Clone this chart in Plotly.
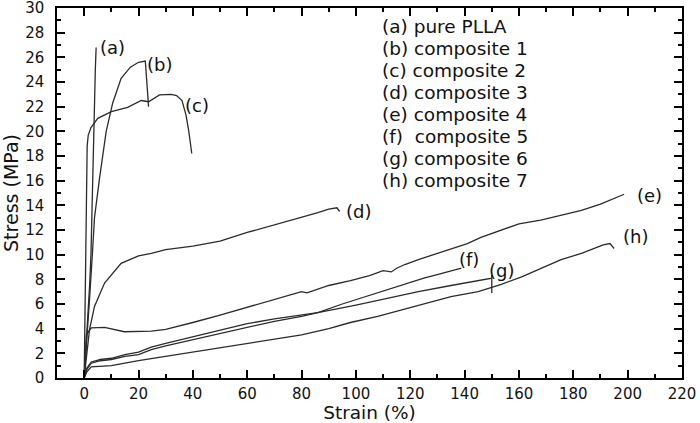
import plotly.graph_objects as go

# ---- data ----
a_x = [0, 1, 2, 2.5, 2.8, 3.1, 3.4, 3.8, 4.1, 4.4]
a_y = [0, 3.5, 7.5, 10, 13, 17, 20, 23, 25, 26.8]

b_x = [0, 1, 2, 3, 3.8, 5.6, 8.1, 10.5, 13.6, 17, 20, 22.5, 23.0, 23.7]
b_y = [0, 3, 6.5, 10, 13, 16.1, 20, 22.3, 24.3, 25.2, 25.6, 25.7, 24.0, 22.0]

c_x = [0, 0.4, 0.6, 0.8, 1.1, 1.5, 2.5, 5, 10, 16, 21, 23.7, 27.7, 32, 34, 36, 37.5, 38.5, 39.6]
c_y = [0, 8, 13, 17, 18.8, 19.7, 20.3, 21.05, 21.6, 21.95, 22.5, 22.4, 22.95, 23.0, 22.9, 22.5, 21.3, 20.0, 18.2]

d_x = [0, 0.5, 1.1, 1.95, 3.8, 7.5, 13.6, 20, 24.7, 30, 40, 50, 60, 70, 80, 86, 90, 93, 94]
d_y = [0, 1.0, 2.0, 3.9, 5.8, 7.7, 9.3, 9.9, 10.1, 10.4, 10.7, 11.1, 11.8, 12.4, 13.0, 13.4, 13.7, 13.8, 13.5]

e_x = [0, 0.3, 0.8, 2.6, 7.5, 14.8, 20, 24.7, 30, 35.7, 40, 50, 60, 70, 80, 82, 90, 98, 105, 110, 113, 115,
       118, 123, 130, 141, 146, 153.5, 160, 168, 175, 183, 190, 198.7]
e_y = [0, 2.0, 3.5, 4.06, 4.1, 3.75, 3.75, 3.8, 3.95, 4.25, 4.5, 5.1, 5.75, 6.4, 7.0, 6.9, 7.5, 7.9, 8.3, 8.7, 8.6,
       8.9, 9.2, 9.6, 10.1, 10.9, 11.4, 12.0, 12.5, 12.8, 13.2, 13.6, 14.1, 14.9]

f_x = [0, 0.5, 1, 2.6, 6, 10, 15, 20, 24.7, 30, 40, 50, 60, 70, 80, 86, 95, 105, 116.7, 125, 132, 138.8]
f_y = [0, 0.4, 0.7, 1.2, 1.4, 1.5, 1.75, 1.9, 2.3, 2.6, 3.1, 3.6, 4.1, 4.6, 5.0, 5.3, 6.0, 6.7, 7.5, 8.1, 8.5, 8.9]

g_x = [0, 0.5, 1, 2.6, 6, 10, 15, 20, 24.7, 30, 40, 50, 60, 70, 80, 86, 100, 110, 123, 135, 143, 150, 150, 150]
g_y = [0, 0.45, 0.8, 1.3, 1.5, 1.6, 1.9, 2.1, 2.5, 2.8, 3.35, 3.9, 4.4, 4.8, 5.1, 5.3, 5.9, 6.4, 7.0, 7.5, 7.8, 8.1, 8.35, 6.9]

h_x = [0, 0.5, 1, 2.6, 5, 10, 20, 30, 40, 50, 60, 70, 80, 90, 98, 108, 116.7, 125, 135, 145, 153.5, 161, 168,
       175.5, 183, 191, 193.5, 195]
h_y = [0, 0.3, 0.5, 0.9, 0.95, 1.0, 1.4, 1.75, 2.1, 2.45, 2.8, 3.1, 3.5, 4.0, 4.5, 5.0, 5.5, 6.0, 6.6, 7.0, 7.6,
       8.2, 8.9, 9.6, 10.1, 10.8, 10.9, 10.5]

curve_tags = ["(a)", "(b)", "(c)", "(d)", "(e)", "(f)", "(g)", "(h)"]
tag_x = [10.3, 27.6, 41.6, 101, 208, 141.7, 153.5, 203]
tag_y = [26.8, 25.4, 22.1, 13.5, 14.8, 9.6, 8.75, 11.5]

legend_lines = ["(a) pure PLLA", "(b) composite 1", "(c) composite 2", "(d) composite 3",
                "(e) composite 4", "(f)\u00a0 composite 5", "(g) composite 6", "(h) composite 7"]

x_ticks = list(range(0, 221, 20))
y_ticks = list(range(0, 31, 2))

FONT = "DejaVu Sans"
LINE = "#2b2b2b"

fig = go.Figure()
for xs, ys in [(a_x, a_y), (b_x, b_y), (c_x, c_y), (d_x, d_y), (e_x, e_y), (f_x, f_y), (g_x, g_y), (h_x, h_y)]:
    fig.add_trace(go.Scatter(x=xs, y=ys, mode="lines", line=dict(color=LINE, width=1.3),
                             showlegend=False, hoverinfo="skip"))

annotations = []
for t, tx, ty in zip(curve_tags, tag_x, tag_y):
    annotations.append(dict(x=tx, y=ty, xref="x", yref="y", text=t, showarrow=False,
                            font=dict(family=FONT, size=18, color="#111")))

leg_x = 109.0
leg_y0 = 28.47
leg_dy = 1.776
for i, s in enumerate(legend_lines):
    annotations.append(dict(x=leg_x, y=leg_y0 - i * leg_dy, xref="x", yref="y", text=s,
                            showarrow=False, xanchor="left", yanchor="middle",
                            font=dict(family=FONT, size=18.5, color="#111")))

axis_common = dict(
    showline=True, linecolor="black", linewidth=1.5, mirror="ticks",
    ticks="inside", ticklen=8, tickwidth=1.5, tickcolor="black",
    showgrid=False, zeroline=False, ticklabeloverflow="allow",
    tickfont=dict(family=FONT, size=15, color="#111"),
)

fig.update_xaxes(range=[-10, 220], tickvals=x_ticks,
                 minor=dict(ticks="inside", ticklen=4, tickwidth=1.5, tickcolor="black", dtick=10, tick0=0),
                 title=dict(text="Strain (%)", font=dict(family=FONT, size=18.5, color="#111"), standoff=7),
                 ticklabelstandoff=1, **axis_common)
fig.update_yaxes(range=[0, 30], tickvals=y_ticks,
                 minor=dict(ticks="inside", ticklen=4, tickwidth=1.5, tickcolor="black", dtick=1, tick0=0),
                 title=dict(text="Stress (MPa)", font=dict(family=FONT, size=19, color="#111"), standoff=6),
                 ticklabelstandoff=8, **axis_common)

fig.update_layout(
    width=700, height=423,
    margin=dict(l=57, r=18, t=8, b=45, autoexpand=False),
    paper_bgcolor="white", plot_bgcolor="white",
    annotations=annotations,
    showlegend=False,
)

fig.write_html("out.html", config={"displayModeBar": False},
               post_script="document.body.style.margin='0';document.body.style.overflow='hidden';")
